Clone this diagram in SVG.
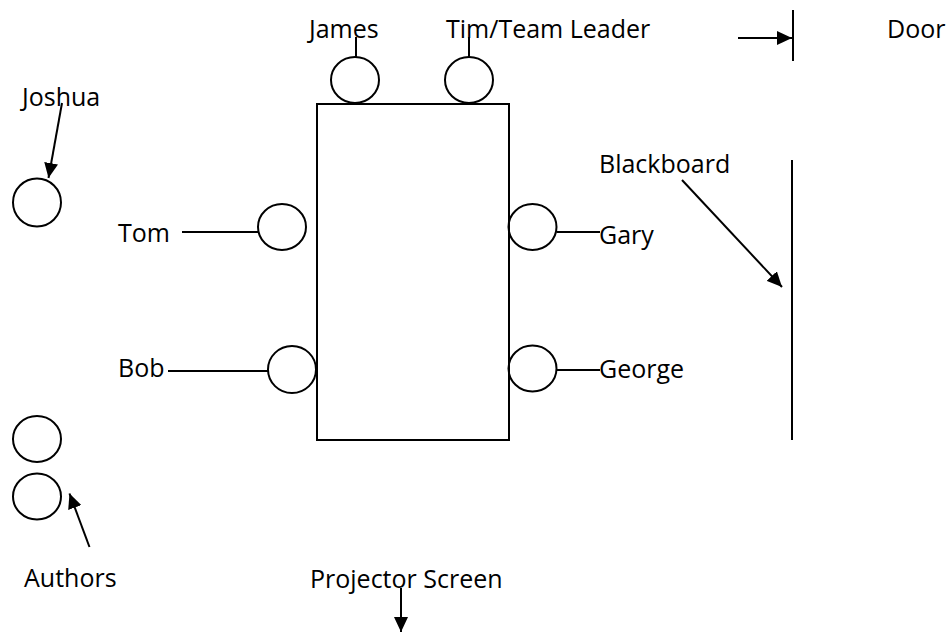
<svg xmlns="http://www.w3.org/2000/svg" width="948" height="637" viewBox="0 0 948 637">
<style>
text{font-family:"Open Sans","Liberation Sans",sans-serif;font-size:25px;fill:#000}
.s{fill:none;stroke:#000;stroke-width:2}
.c{fill:none;stroke:#000;stroke-width:2}
</style>
<defs>
<marker id="ah" markerUnits="userSpaceOnUse" markerWidth="16" markerHeight="14" refX="15" refY="7" orient="auto">
<path d="M0,0 L15,7 L0,14 Z" fill="#000"/>
</marker>
</defs>
<rect width="948" height="637" fill="#fff"/>
<g id="table"><rect class="s" x="317" y="104" width="192" height="336"/></g>
<g id="james"><ellipse class="c" cx="355" cy="80" rx="24" ry="23"/><text x="309" y="38">James</text></g>
<g id="tim"><ellipse class="c" cx="469" cy="80" rx="24" ry="23"/><text x="446" y="38">Tim/Team Leader</text></g>
<g id="tom"><ellipse class="c" cx="282" cy="227" rx="24" ry="23"/><text x="118" y="242">Tom</text></g>
<g id="bob"><ellipse class="c" cx="292" cy="369.5" rx="24" ry="23.5"/><text x="118" y="377">Bob</text></g>
<g id="gary"><ellipse class="c" cx="532.5" cy="227" rx="24" ry="23"/><text x="599" y="244">Gary</text></g>
<g id="george"><ellipse class="c" cx="532.5" cy="368.5" rx="24" ry="23"/><text x="599" y="378">George</text></g>
<g id="joshua"><ellipse class="c" cx="37" cy="202.5" rx="24" ry="24"/><text x="22" y="106">Joshua</text></g>
<g id="authors"><ellipse class="c" cx="37" cy="439" rx="24" ry="23"/><ellipse class="c" cx="37" cy="496.5" rx="24" ry="23"/><text x="24" y="587">Authors</text></g>
<g id="blackboard"><line class="s" x1="792" y1="160" x2="792" y2="440"/><text x="599" y="173">Blackboard</text></g>
<g id="door"><line class="s" x1="793" y1="10" x2="793" y2="61"/><text x="887" y="38">Door</text></g>
<g id="projector"><text x="310" y="588">Projector Screen</text></g>
<g id="connectors">
<line class="s" x1="356" y1="37" x2="356" y2="57"/>
<line class="s" x1="469" y1="37" x2="469" y2="57"/>
<line class="s" x1="182" y1="232" x2="258" y2="232"/>
<line class="s" x1="168" y1="371" x2="268" y2="371"/>
<line class="s" x1="557" y1="232" x2="600" y2="232"/>
<line class="s" x1="557" y1="370" x2="600" y2="370"/>
<line class="s" x1="62" y1="103" x2="48.5" y2="178" marker-end="url(#ah)"/>
<line class="s" x1="89.5" y1="547" x2="69.5" y2="493.5" marker-end="url(#ah)"/>
<line class="s" x1="682" y1="180" x2="782" y2="287" marker-end="url(#ah)"/>
<line class="s" x1="738" y1="38" x2="792" y2="38" marker-end="url(#ah)"/>
<line class="s" x1="401" y1="588" x2="401" y2="632" marker-end="url(#ah)"/>
</g>
</svg>
